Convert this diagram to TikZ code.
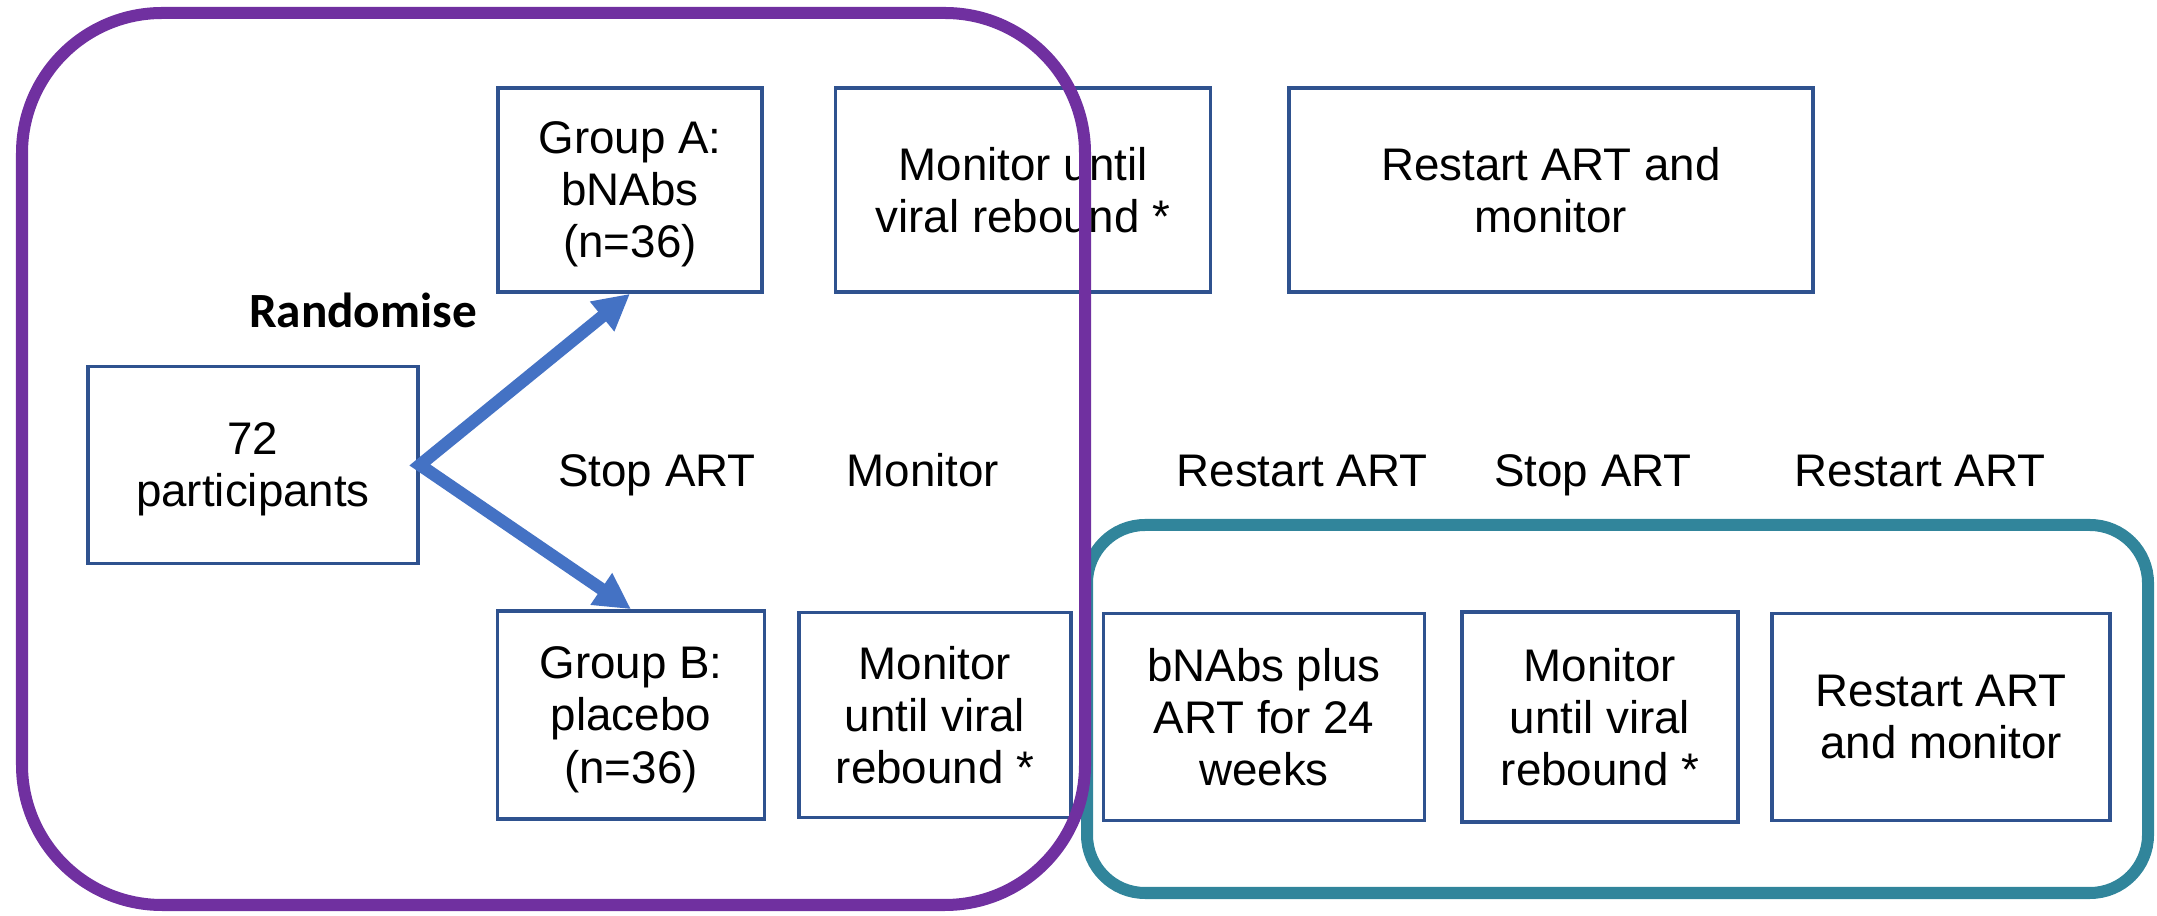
\documentclass[tikz,border=0pt]{standalone}
\usepackage{fontspec}
\setmainfont{Liberation Sans}
\newfontfamily\calibriFont{Carlito}
\usetikzlibrary{arrows.meta}
\definecolor{boxColor}{RGB}{47,82,143}
\definecolor{arrowColor}{RGB}{68,114,196}
\definecolor{purpleFrame}{RGB}{112,48,160}
\definecolor{tealFrame}{RGB}{49,133,155}
\newcommand{\stageFont}{\fontsize{13}{14.8}\selectfont}
\newcommand{\randomFont}{\calibriFont\bfseries\fontsize{14}{16}\selectfont}
\tikzstyle{diagram} = [x = 0.01cm, y = -0.01cm]
\tikzstyle{stageBox} = [draw=boxColor, line width=1pt, fill=white, align=center, inner sep=0pt, text depth=0pt, font=\stageFont]
\tikzstyle{phaseText} = [inner sep=0pt, anchor=base, font=\stageFont]
\tikzstyle{randomArrow} = [color=arrowColor, line width=0.125cm, >={Triangle[length=0.36cm, width=0.36cm]}, <->]
\tikzstyle{armFrame} = [line width=0.12cm]
\newcommand{\stageNode}[6]{\node [stageBox, minimum width=#4cm, minimum height=#5cm] (#1) at (#2,#3) {#6};}
\begin{document}
\begin{tikzpicture}[diagram]
        \useasboundingbox (0,0) rectangle (2157,916);
        \stageNode{part}{253}{465}{3.30}{1.97}{72\\participants}
        \stageNode{grpA}{630}{190}{2.64}{2.04}{Group A:\\bNAbs\\(n=36)}
        \stageNode{monA}{1023}{190}{3.75}{2.04}{Monitor until\\viral rebound *}
        \stageNode{restA}{1551}{190}{5.24}{2.04}{Restart ART and\\monitor}
        \stageNode{grpB}{631}{715}{2.67}{2.08}{Group B:\\placebo\\(n=36)}
        \stageNode{monB}{935}{715}{2.72}{2.05}{Monitor\\until viral\\rebound *}
        \stageNode{bnabs}{1264}{717}{3.21}{2.07}{bNAbs plus\\ART for 24\\weeks}
        \stageNode{monC}{1600}{717}{2.76}{2.10}{Monitor\\until viral\\rebound *}
        \stageNode{restC}{1941}{717}{3.38}{2.07}{Restart ART\\and monitor}

        \node [phaseText, font=\randomFont] (rand) at (363,328) {Randomise};
        \node [phaseText] (stopA) at (657,487) {Stop ART};
        \node [phaseText] (monitor) at (923,487) {Monitor};
        \node [phaseText] (restartA) at (1302,487) {Restart ART};
        \node [phaseText] (stopB) at (1593,487) {Stop ART};
        \node [phaseText] (restartB) at (1920,487) {Restart ART};

        \draw [randomArrow] (grpA.south) -- (part.east) -- (grpB.north);

        \draw [armFrame, color=tealFrame, rounded corners=0.58cm] (1087,525) rectangle (2148,893);
        \draw [armFrame, color=purpleFrame, rounded corners=1.4cm] (22,13) rectangle (1085,905);
\end{tikzpicture}
\end{document}
